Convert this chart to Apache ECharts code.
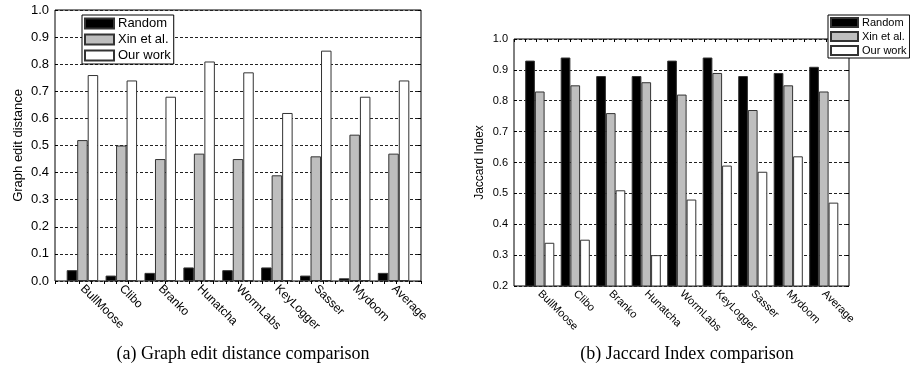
<!DOCTYPE html>
<html>
<head>
<meta charset="utf-8">
<script src="https://cdn.jsdelivr.net/npm/echarts@6/dist/echarts.min.js"></script>
<style>html,body{margin:0;padding:0;background:#fff;}#c{width:910px;height:379px;}</style>
</head>
<body>
<div id="c"></div>
<script>
const categories = ['BullMoose','Clibo','Branko','Hunatcha','WormLabs','KeyLogger','Sasser','Mydoom','Average'];
const seriesNames = ['Random','Xin et al.','Our work'];
// (a) Graph edit distance
const gedRandom = [0.04, 0.02, 0.03, 0.05, 0.04, 0.05, 0.02, 0.01, 0.03];
const gedXin    = [0.52, 0.50, 0.45, 0.47, 0.45, 0.39, 0.46, 0.54, 0.47];
const gedOurs   = [0.76, 0.74, 0.68, 0.81, 0.77, 0.62, 0.85, 0.68, 0.74];
// (b) Jaccard index
const jacRandom = [0.93, 0.94, 0.88, 0.88, 0.93, 0.94, 0.88, 0.89, 0.91];
const jacXin    = [0.83, 0.85, 0.76, 0.86, 0.82, 0.89, 0.77, 0.85, 0.83];
const jacOurs   = [0.34, 0.35, 0.51, 0.30, 0.48, 0.59, 0.57, 0.62, 0.47];
const captionA = '(a) Graph edit distance comparison';
const captionB = '(b) Jaccard Index comparison';

const SANS = 'Liberation Sans, Arial, sans-serif';
const fills = ['#000000', '#bebebe', '#ffffff'];

function frameY(gridIndex, min, name, fontSize, nameSize, nameGap) {
  return [
    {gridIndex, type:'value', min, max:1, interval:0.1, position:'left',
     axisLine:{show:false},
     axisTick:{show:true, inside:true, length:3, lineStyle:{color:'#000'}},
     axisLabel:{formatter:v=>v.toFixed(1), fontSize, margin:6, color:'#000', fontFamily:SANS},
     splitLine:{show:true, lineStyle:{type:[3,2], color:'#222', width:1}},
     name, nameLocation:'middle', nameGap,
     nameTextStyle:{fontSize:nameSize, color:'#000', fontFamily:SANS}},
    {gridIndex, type:'value', min, max:1, interval:0.1, position:'right',
     axisLine:{show:false}, axisLabel:{show:false}, splitLine:{show:false},
     axisTick:{show:true, inside:true, length:3, lineStyle:{color:'#000'}}}
  ];
}

function topTicks(gridIndex) {
  return {gridIndex, type:'value', min:0, max:30, interval:1, position:'top',
    axisLine:{show:false}, axisLabel:{show:false}, splitLine:{show:false},
    axisTick:{show:true, inside:true, length:3, lineStyle:{color:'#000'}}};
}

function barSeries(vals, i, xAxisIndex, yAxisIndex, barWidth) {
  return {type:'bar', name:seriesNames[i], data:vals, xAxisIndex, yAxisIndex,
    barWidth, barGap:'0%',
    itemStyle:{color:fills[i], borderColor:'#333', borderWidth:1},
    emphasis:{disabled:true}, animation:false};
}

const option = {
  animation:false,
  backgroundColor:'#fff',
  title:[
    {text:captionA, left:238, top:340, textAlign:'center',
     textStyle:{fontFamily:'Liberation Serif, serif', fontSize:18, fontWeight:'normal', color:'#000'}},
    {text:captionB, left:682, top:340, textAlign:'center',
     textStyle:{fontFamily:'Liberation Serif, serif', fontSize:18, fontWeight:'normal', color:'#000'}}
  ],
  legend:[
    {data:seriesNames, left:82, top:15, orient:'vertical', icon:'rect',
     itemWidth:29, itemHeight:10, itemGap:3, padding:[2,3,2,2],
     borderColor:'#000', borderWidth:1, backgroundColor:'#fff',
     textStyle:{fontSize:13, color:'#000', fontFamily:SANS, padding:[0,0,0,-1]}},
    {data:seriesNames, left:828, top:15, orient:'vertical', icon:'rect',
     itemWidth:27, itemHeight:9, itemGap:3, padding:[2,3,2,2],
     borderColor:'#000', borderWidth:1, backgroundColor:'#fff',
     textStyle:{fontSize:11, color:'#000', fontFamily:SANS, padding:[0,0,0,-1]}}
  ],
  grid:[
    {left:55, top:10, width:366, height:271, show:true, borderColor:'#000', borderWidth:1, backgroundColor:'transparent'},
    {left:63, top:10, width:350, height:271},
    {left:514, top:39, width:335, height:247, show:true, borderColor:'#000', borderWidth:1, backgroundColor:'transparent'},
    {left:522, top:39, width:319.5, height:247}
  ],
  xAxis:[
    topTicks(0),
    {gridIndex:1, type:'category', data:categories,
     axisLine:{show:false}, axisTick:{show:false},
     axisLabel:{rotate:-45, interval:0, fontSize:12, margin:6, color:'#000', fontFamily:SANS}},
    topTicks(2),
    {gridIndex:3, type:'category', data:categories,
     axisLine:{show:false}, axisTick:{show:false},
     axisLabel:{rotate:-45, interval:0, fontSize:11, margin:6, color:'#000', fontFamily:SANS}}
  ],
  yAxis:[
    ...frameY(0, 0, 'Graph edit distance', 13, 13, 30),
    {gridIndex:1, type:'value', min:0, max:1, show:false},
    ...frameY(2, 0.2, 'Jaccard Index', 11, 12, 28),
    {gridIndex:3, type:'value', min:0.2, max:1, show:false}
  ],
  series:[
    barSeries(gedRandom, 0, 1, 2, 10.5),
    barSeries(gedXin,    1, 1, 2, 10.5),
    barSeries(gedOurs,   2, 1, 2, 10.5),
    barSeries(jacRandom, 0, 3, 5, 9.7),
    barSeries(jacXin,    1, 3, 5, 9.7),
    barSeries(jacOurs,   2, 3, 5, 9.7)
  ]
};

const chart = echarts.init(document.getElementById('c'), null, {renderer:'canvas'});
chart.setOption(option);
</script>
</body>
</html>
